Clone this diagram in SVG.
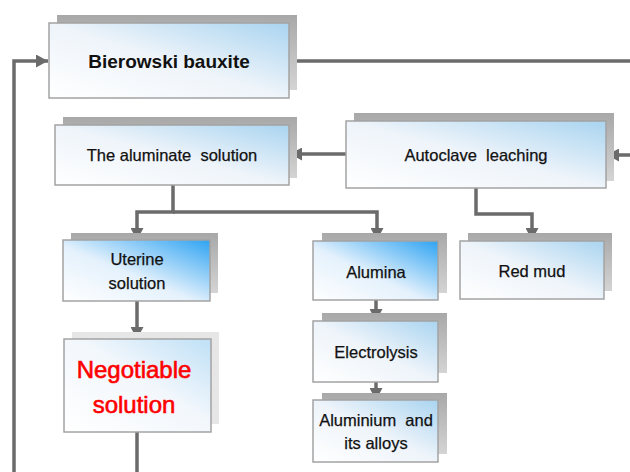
<svg xmlns="http://www.w3.org/2000/svg" width="630" height="472" viewBox="0 0 630 472">
<defs>
<linearGradient id="gLight" x1="0" y1="1" x2="1" y2="0">
<stop offset="0" stop-color="#ffffff"/>
<stop offset="0.5" stop-color="#eef4fa"/>
<stop offset="1" stop-color="#a9d4f0"/>
</linearGradient>
<linearGradient id="gStrong" x1="0" y1="1" x2="1" y2="0">
<stop offset="0" stop-color="#ffffff"/>
<stop offset="0.45" stop-color="#e4f1fc"/>
<stop offset="1" stop-color="#2ea3f2"/>
</linearGradient>
<linearGradient id="gPale" x1="0" y1="1" x2="1" y2="0">
<stop offset="0" stop-color="#ffffff"/>
<stop offset="0.55" stop-color="#f2f7fc"/>
<stop offset="1" stop-color="#bfe0f6"/>
</linearGradient>
<linearGradient id="gShadow" x1="0" y1="0" x2="0" y2="1">
<stop offset="0" stop-color="#a8a8a8"/>
<stop offset="1" stop-color="#d4d4d4"/>
</linearGradient>
<marker id="arr" markerUnits="userSpaceOnUse" markerWidth="13" markerHeight="13" refX="12" refY="6.5" orient="auto">
<path d="M0,0 L12,6.5 L0,13 z" fill="#6b6b6b"/>
</marker>
</defs>
<style>
.sh{fill:url(#gShadow);}
.shp{fill:#e6e6e6;}
.bx{stroke:#a3a3a3;stroke-width:1.5;}
.t{font-family:"Liberation Sans",Arial,sans-serif;font-size:16.5px;fill:#111;stroke:#111;stroke-width:0.25;text-anchor:middle;white-space:pre;}
.tb{font-family:"Liberation Sans",Arial,sans-serif;font-size:19px;font-weight:bold;fill:#111;text-anchor:middle;}
.tr{font-family:"Liberation Sans",Arial,sans-serif;font-size:24px;fill:#ff0000;stroke:#ff0000;stroke-width:0.6;text-anchor:middle;}
.c{fill:none;stroke:#6b6b6b;stroke-width:3.5;}
</style>
<g id="connectors">
<path class="c" d="M137,432 V490 H14 V61 H48" marker-end="url(#arr)"/>
<path class="c" d="M289,61 H650 V155 H607" marker-end="url(#arr)"/>
<path class="c" d="M346,154 H290" marker-end="url(#arr)"/>
<path class="c" d="M173,185 V212 H137 V240" marker-end="url(#arr)"/>
<path class="c" d="M173,212 H377 V240" marker-end="url(#arr)"/>
<path class="c" d="M476,188 V214 H532 V240" marker-end="url(#arr)"/>
<path class="c" d="M137,301 V339" marker-end="url(#arr)"/>
<path class="c" d="M376,300 V321" marker-end="url(#arr)"/>
<path class="c" d="M376,382 V400" marker-end="url(#arr)"/>
</g>
<g id="bierowski">
<rect class="sh" x="57" y="15" width="240" height="75"/>
<rect class="bx" x="49" y="23" width="240" height="75" fill="url(#gLight)"/>
<text class="tb" x="169" y="68">Bierowski bauxite</text>
</g>
<g id="aluminate">
<rect class="sh" x="63" y="117" width="234" height="61"/>
<rect class="bx" x="55" y="125" width="234" height="60" fill="url(#gLight)"/>
<text class="t" x="172" y="161">The aluminate  solution</text>
</g>
<g id="autoclave">
<rect class="sh" x="354" y="113" width="260" height="68"/>
<rect class="bx" x="346" y="121" width="260" height="67" fill="url(#gLight)"/>
<text class="t" x="476" y="161">Autoclave  leaching</text>
</g>
<g id="uterine">
<rect class="sh" x="71" y="233" width="147" height="60"/>
<rect class="bx" x="63" y="240" width="147" height="61" fill="url(#gStrong)"/>
<text class="t" x="137" y="265">Uterine</text>
<text class="t" x="137" y="289">solution</text>
</g>
<g id="alumina">
<rect class="sh" x="322" y="233" width="125" height="60"/>
<rect class="bx" x="313" y="241" width="125" height="59" fill="url(#gStrong)"/>
<text class="t" x="376" y="278">Alumina</text>
</g>
<g id="redmud">
<rect class="sh" x="468" y="233" width="144" height="58"/>
<rect class="bx" x="460" y="241" width="144" height="58" fill="url(#gLight)"/>
<text class="t" x="532" y="277">Red mud</text>
</g>
<g id="negotiable">
<rect class="shp" x="72" y="332" width="147" height="92"/>
<rect class="bx" x="64" y="339" width="147" height="93" fill="url(#gPale)"/>
<text class="tr" x="134" y="378">Negotiable</text>
<text class="tr" x="134" y="413">solution</text>
</g>
<g id="electrolysis">
<rect class="sh" x="322" y="313" width="125" height="60"/>
<rect class="bx" x="313" y="321" width="125" height="61" fill="url(#gLight)"/>
<text class="t" x="376" y="358">Electrolysis</text>
</g>
<g id="aluminium">
<rect class="sh" x="322" y="393" width="125" height="61"/>
<rect class="bx" x="313" y="400" width="125" height="62" fill="url(#gLight)"/>
<text class="t" x="376" y="426">Aluminium  and</text>
<text class="t" x="376" y="449">its alloys</text>
</g>
</svg>
